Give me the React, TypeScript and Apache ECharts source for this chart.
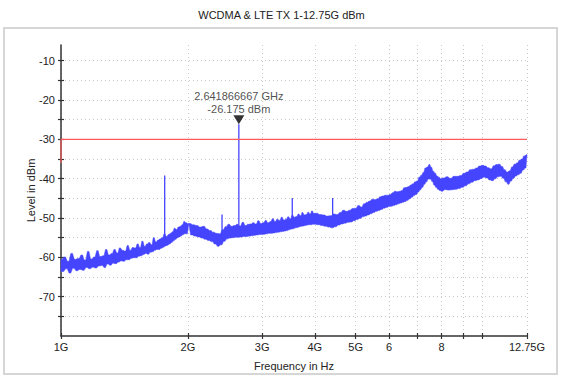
import React, { useEffect, useRef } from "react";
import * as echarts from "echarts";

const TITLE = "WCDMA & LTE TX 1-12.75G dBm";
const X_NAME = "Frequency in Hz";
const Y_NAME = "Level in dBm";

const X_MIN = 1;
const X_MAX = 12.75;
const Y_MIN = -80;
const Y_MAX = -6;

const X_TICKS = [1, 2, 3, 4, 5, 6, 7, 8, 9, 10, 12.75];
const X_LABEL_VALUES = [1, 2, 3, 4, 5, 6, 8, 12.75];
const X_LABELS = ["1G", "2G", "3G", "4G", "5G", "6", "8", "12.75G"];
const Y_TICKS = [-75, -70, -65, -60, -55, -50, -45, -40, -35, -30, -25, -20, -15, -10];
const Y_LABEL_VALUES = [-70, -60, -50, -40, -30, -20, -10];

// limit line (GHz, dBm)
const LIMIT = [
  [1, -36],
  [1, -30],
  [12.75, -30],
];

// marker
const MARKER_FREQ_GHZ = 2.641866667;
const MARKER_LEVEL = -26.175;

// sweep segments: start GHz, step GHz, measured levels (dBm), alternating peak / valley samples
const SWEEP_1_2G = { start: 1.0, step: 0.01 };
const LEVELS_1_2G = [
  -60.6, -63.6, -59.9, -62.9, -61.0, -64.0, -59.0, -62.8, -60.5, -63.4, -60.3,
  -63.1, -59.4, -63.3, -60.7, -62.6, -58.5, -62.9, -60.4, -62.5, -59.9,
  -62.7, -58.3, -62.2, -59.8, -62.1, -59.6, -62.6, -58.0, -61.7, -59.4,
  -62.0, -59.0, -61.5, -58.0, -61.6, -58.9, -61.2, -57.6, -60.9, -58.2,
  -61.0, -58.4, -60.6, -57.0, -60.6, -58.2, -60.2, -57.5, -60.1, -57.6,
  -60.1, -56.6, -59.7, -57.5, -59.6, -55.9, -59.3, -57.2, -59.0, -56.6,
  -59.2, -56.2, -58.7, -56.8, -58.6, -55.0, -58.2, -56.1, -58.0, -55.6,
  -58.0, -55.3, -57.7, -55.0, -57.4, -54.0, -57.1, -54.7, -56.9, -54.2,
  -56.6, -53.9, -56.2, -53.5, -55.8, -52.6, -55.4, -52.9, -55.0, -52.3,
  -54.8, -52.1, -54.5, -51.7, -54.2, -50.9, -54.0, -51.2, -54.0, -51.4,
];

const SWEEP_2_4G = { start: 2.02, step: 0.02 };
const LEVELS_2_4G = [
  -51.4, -54.3, -51.7, -54.6, -51.9, -54.8, -52.3, -55.1, -52.1, -55.4,
  -52.8, -55.7, -53.2, -56.0, -53.6, -56.6, -53.9, -57.2, -54.0, -56.8,
  -53.0, -55.9, -52.2, -55.3, -51.6, -55.1, -52.1, -55.0, -51.9, -54.9,
  -51.6, -54.9, -52.0, -54.8, -51.1, -54.7, -51.9, -54.7, -51.6, -54.6,
  -51.5, -54.5, -51.2, -54.4, -51.5, -54.3, -50.7, -54.2, -51.4, -54.2,
  -51.2, -54.1, -50.6, -54.0, -51.2, -53.9, -50.9, -53.9, -50.2, -53.8,
  -50.9, -53.7, -50.3, -53.6, -50.6, -53.5, -49.8, -53.4, -50.5, -53.3,
  -50.3, -53.2, -49.7, -53.0, -50.2, -52.8, -49.3, -52.7, -49.8, -52.5,
  -49.6, -52.4, -49.0, -52.2, -49.4, -52.1, -48.6, -52.0, -49.2, -51.9,
  -49.1, -51.8, -48.5, -51.7, -49.0, -51.7, -48.2, -51.6, -48.8, -51.6,
];

const SWEEP_4_8G = { start: 4.04, step: 0.04 };
const LEVELS_4_8G = [
  -48.8, -51.7, -49.1, -51.9, -49.2, -52.1, -49.5, -52.3, -49.4, -52.5,
  -49.0, -52.2, -49.1, -51.8, -48.6, -51.5, -48.0, -51.3, -48.3, -51.1,
  -48.0, -51.0, -47.6, -50.7, -47.5, -50.4, -46.8, -50.1, -47.2, -49.7,
  -46.4, -49.5, -46.0, -49.2, -45.7, -48.9, -45.2, -48.6, -45.3, -48.3,
  -45.1, -48.1, -44.6, -47.8, -44.4, -47.5, -44.2, -47.3, -44.2, -47.1,
  -44.0, -47.0, -43.6, -46.8, -43.2, -46.6, -43.3, -46.4, -43.2, -46.2,
  -43.0, -46.0, -42.3, -45.8, -42.2, -45.5, -42.0, -45.1, -41.6, -44.7,
  -41.3, -44.3, -40.8, -44.0, -40.6, -43.4, -39.6, -42.8, -39.1, -42.2,
  -38.4, -41.4, -37.3, -40.8, -37.0, -40.1, -36.4, -40.1, -37.1, -40.7,
  -38.1, -41.6, -38.6, -42.2, -39.3, -42.7, -39.6, -43.0, -40.0, -43.2,
];

const SWEEP_8_13G = { start: 8.08, step: 0.08 };
const LEVELS_8_13G = [
  -39.8, -42.8, -39.5, -42.9, -39.9, -42.8, -39.4, -42.7, -39.4, -42.5,
  -39.2, -42.2, -38.6, -41.8, -38.3, -41.3, -37.7, -40.9, -37.6, -40.5,
  -37.3, -40.3, -36.8, -40.0, -36.6, -39.6, -36.8, -39.8, -37.2, -40.3,
  -37.5, -40.5, -36.7, -40.0, -36.4, -39.5, -36.3, -39.4, -36.9, -39.9,
  -37.7, -40.8, -38.3, -41.4, -38.0, -40.6, -37.0, -39.9, -36.3, -39.3,
  -36.0, -39.0, -35.3, -38.6, -35.0, -37.8, -34.2, -37.3, -33.9,
];
const TRACE_END = [12.75, -34.4];

// discrete spurs (GHz, peak dBm, floor dBm)
const SPURS = [
  [1.762, -39.2, -56.0],
  [2.41, -49.1, -55.0],
  [MARKER_FREQ_GHZ, MARKER_LEVEL, -53.5],
  [3.537, -44.9, -51.5],
  [4.41, -44.9, -51.0],
];

const FONT = "'Liberation Sans', Arial, Helvetica, sans-serif";
const TEXT_COLOR = "#222";
const AXIS_COLOR = "#333";
const TRACE_COLOR = "#4545ff";

function sweep(seg: { start: number; step: number }, levels: number[]) {
  return levels.map((v, i) => [Number((seg.start + i * seg.step).toFixed(4)), v]);
}

const TRACE = [
  ...sweep(SWEEP_1_2G, LEVELS_1_2G),
  ...sweep(SWEEP_2_4G, LEVELS_2_4G),
  ...sweep(SWEEP_4_8G, LEVELS_4_8G),
  ...sweep(SWEEP_8_13G, LEVELS_8_13G),
  TRACE_END,
];

function xLabel(v: number) {
  const i = X_LABEL_VALUES.findIndex((x) => Math.abs(x - v) < 1e-3);
  return i >= 0 ? X_LABELS[i] : "";
}

export default function App() {
  const ref = useRef<HTMLDivElement>(null);
  useEffect(() => {
    const chart = echarts.init(ref.current!, null, { renderer: "svg" });
    const gridPos = { left: 61, right: 36, top: 45, bottom: 45 };
    const option: any = {
      animation: false,
      backgroundColor: "#fff",
      title: {
        text: TITLE,
        left: "center",
        top: 4,
        textStyle: { fontSize: 11, fontWeight: "normal", color: TEXT_COLOR, fontFamily: FONT },
      },
      graphic: [
        {
          type: "rect",
          shape: { x: 4, y: 28, width: 553, height: 346 },
          style: { fill: "none", stroke: "#d6d6d6", lineWidth: 2 },
          z: -1,
          silent: true,
        },
      ],
      grid: [
        { ...gridPos, containLabel: false },
        { ...gridPos, containLabel: false },
      ],
      xAxis: [
        {
          type: "log",
          logBase: 10,
          gridIndex: 0,
          min: X_MIN,
          max: X_MAX,
          name: X_NAME,
          nameLocation: "middle",
          nameGap: 24,
          nameMoveOverlap: false,
          nameTextStyle: { fontSize: 11, color: TEXT_COLOR, fontFamily: FONT },
          axisLine: { show: true, lineStyle: { color: AXIS_COLOR, width: 1.5 } },
          axisTick: { show: true, length: 3, customValues: X_TICKS, lineStyle: { color: AXIS_COLOR, width: 1.2 } },
          axisLabel: {
            customValues: X_LABEL_VALUES,
            formatter: xLabel,
            fontSize: 11,
            color: TEXT_COLOR,
            fontFamily: FONT,
            margin: 5,
          },
          splitLine: { show: true, lineStyle: { color: "#c8c8c8", type: [1, 3], width: 1 } },
          minorTick: { show: false },
        },
        {
          type: "log",
          logBase: 10,
          gridIndex: 1,
          min: X_MIN,
          max: X_MAX,
          axisLine: { show: false },
          axisTick: { show: true, inside: true, length: 3, customValues: X_TICKS, lineStyle: { color: AXIS_COLOR, width: 1.2 } },
          axisLabel: { show: false },
          splitLine: { show: false },
        },
      ],
      yAxis: [
        {
          type: "value",
          gridIndex: 0,
          min: Y_MIN,
          max: Y_MAX,
          interval: 5,
          name: Y_NAME,
          nameLocation: "middle",
          nameGap: 25,
          nameMoveOverlap: false,
          nameTextStyle: { fontSize: 11, color: TEXT_COLOR, fontFamily: FONT },
          axisLine: { show: true, lineStyle: { color: AXIS_COLOR, width: 1.5 } },
          axisTick: { show: true, length: 3, customValues: Y_TICKS, lineStyle: { color: AXIS_COLOR, width: 1.2 } },
          axisLabel: {
            customValues: Y_LABEL_VALUES,
            fontSize: 11,
            color: TEXT_COLOR,
            fontFamily: FONT,
            margin: 6,
          },
          splitLine: { show: true, lineStyle: { color: "#c8c8c8", type: [1, 3], width: 1 } },
        },
        {
          type: "value",
          gridIndex: 1,
          min: Y_MIN,
          max: Y_MAX,
          interval: 5,
          axisLine: { show: false },
          axisTick: { show: true, inside: true, length: 3, customValues: Y_TICKS, lineStyle: { color: AXIS_COLOR, width: 1.2 } },
          axisLabel: { show: false },
          splitLine: { show: false },
        },
      ],
      series: [
        {
          // trace: min/max envelope of consecutive sweep samples, drawn as one polygon
          type: "custom",
          xAxisIndex: 0,
          yAxisIndex: 0,
          data: TRACE,
          encode: { x: 0, y: 1 },
          z: 3,
          silent: true,
          renderItem: (params: any, api: any) => {
            if (params.dataIndex !== 0) return null;
            const upper: number[][] = [];
            const lower: number[][] = [];
            const first = TRACE[0];
            upper.push(api.coord([first[0], Math.max(first[1], TRACE[1][1])]));
            lower.push(api.coord([first[0], Math.min(first[1], TRACE[1][1])]));
            for (let j = 0; j < TRACE.length - 1; j++) {
              const a = TRACE[j];
              const b = TRACE[j + 1];
              const fm = Math.sqrt(a[0] * b[0]);
              upper.push(api.coord([fm, Math.max(a[1], b[1])]));
              lower.push(api.coord([fm, Math.min(a[1], b[1])]));
            }
            const last = TRACE[TRACE.length - 1];
            const prev = TRACE[TRACE.length - 2];
            upper.push(api.coord([last[0], Math.max(last[1], prev[1])]));
            lower.push(api.coord([last[0], Math.min(last[1], prev[1])]));
            const points = upper.concat(lower.reverse());
            return {
              type: "polygon",
              shape: { points },
              style: { fill: TRACE_COLOR, stroke: TRACE_COLOR, lineWidth: 0.5 },
            };
          },
        },
        {
          type: "custom",
          xAxisIndex: 0,
          yAxisIndex: 0,
          data: SPURS,
          encode: { x: 0, y: 1 },
          z: 3,
          silent: true,
          renderItem: (params: any, api: any) => {
            const top = api.coord([api.value(0), api.value(1)]);
            const bot = api.coord([api.value(0), api.value(2)]);
            return {
              type: "line",
              shape: { x1: top[0], y1: top[1], x2: bot[0], y2: bot[1] },
              style: { stroke: TRACE_COLOR, lineWidth: 1.3 },
            };
          },
        },
        {
          type: "scatter",
          xAxisIndex: 0,
          yAxisIndex: 0,
          data: [[MARKER_FREQ_GHZ, MARKER_LEVEL]],
          symbol: "triangle",
          symbolRotate: 180,
          symbolSize: [11, 9],
          symbolOffset: [0, -4.5],
          itemStyle: { color: "#000" },
          z: 5,
          silent: true,
          label: {
            show: true,
            position: "top",
            distance: 0,
            formatter: () => `${MARKER_FREQ_GHZ.toFixed(9)} GHz\n${MARKER_LEVEL.toFixed(3)} dBm`,
            fontSize: 11,
            lineHeight: 13,
            color: TEXT_COLOR,
            fontFamily: FONT,
          },
        },
        {
          type: "line",
          xAxisIndex: 0,
          yAxisIndex: 0,
          data: LIMIT,
          showSymbol: false,
          symbol: "none",
          clip: false,
          lineStyle: { color: "#ff5a5a", width: 1.2 },
          emphasis: { disabled: true },
          z: 4,
        },
      ],
    };
    chart.setOption(option);
    return () => chart.dispose();
  }, []);
  return <div ref={ref} style={{ position: "absolute", left: 0, top: 0, width: 563, height: 381 }} />;
}
